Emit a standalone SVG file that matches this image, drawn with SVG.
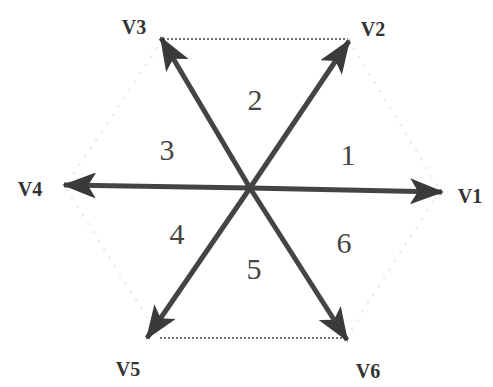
<svg xmlns="http://www.w3.org/2000/svg" width="493" height="387" viewBox="0 0 493 387">
<defs>
<marker id="ah" viewBox="0 0 34 26" refX="32" refY="13" markerWidth="34" markerHeight="26" markerUnits="userSpaceOnUse" orient="auto">
<path d="M0,0 L34,13 L0,26 L8,13 Z" fill="#3a3a3a"/>
</marker>
</defs>
<style>
.v{stroke:#444;stroke-width:5;fill:none;marker-end:url(#ah)}
.d{stroke:#777;stroke-width:2;stroke-dasharray:2 2;fill:none}
.f{stroke:#e6e6e6;stroke-width:2;stroke-dasharray:2 8;fill:none}
.lb{font-family:"Liberation Serif",serif;font-size:20px;font-weight:bold;fill:#333;text-anchor:middle}
.n{font-family:"Liberation Serif",serif;font-size:30px;fill:#444;text-anchor:middle}
</style>
<rect width="493" height="387" fill="#fff"/>
<g id="hexagon">
<path class="d" d="M163,39 L348,39"/>
<path class="d" d="M160,338 L346,338"/>
<path class="f" d="M348,39 L440,190 L346,338"/>
<path class="f" d="M163,39 L65,187 L160,338"/>
</g>
<g id="connectors">
<line class="v" x1="250" y1="188" x2="442" y2="192"/>
<line class="v" x1="250" y1="188" x2="349" y2="41"/>
<line class="v" x1="250" y1="188" x2="161" y2="38"/>
<line class="v" x1="250" y1="188" x2="64" y2="185"/>
<line class="v" x1="250" y1="188" x2="147" y2="338"/>
<line class="v" x1="250" y1="188" x2="347" y2="340"/>
</g>
<g id="V1"><text class="lb" x="470" y="203">V1</text></g>
<g id="V2"><text class="lb" x="373" y="36">V2</text></g>
<g id="V3"><text class="lb" x="134" y="34">V3</text></g>
<g id="V4"><text class="lb" x="30" y="196">V4</text></g>
<g id="V5"><text class="lb" x="128" y="376">V5</text></g>
<g id="V6"><text class="lb" x="368" y="378">V6</text></g>
<g id="sectors">
<text class="n" x="255" y="110">2</text>
<text class="n" x="348" y="165">1</text>
<text class="n" x="167" y="160">3</text>
<text class="n" x="177" y="244">4</text>
<text class="n" x="254" y="279">5</text>
<text class="n" x="344" y="253">6</text>
</g>
</svg>
